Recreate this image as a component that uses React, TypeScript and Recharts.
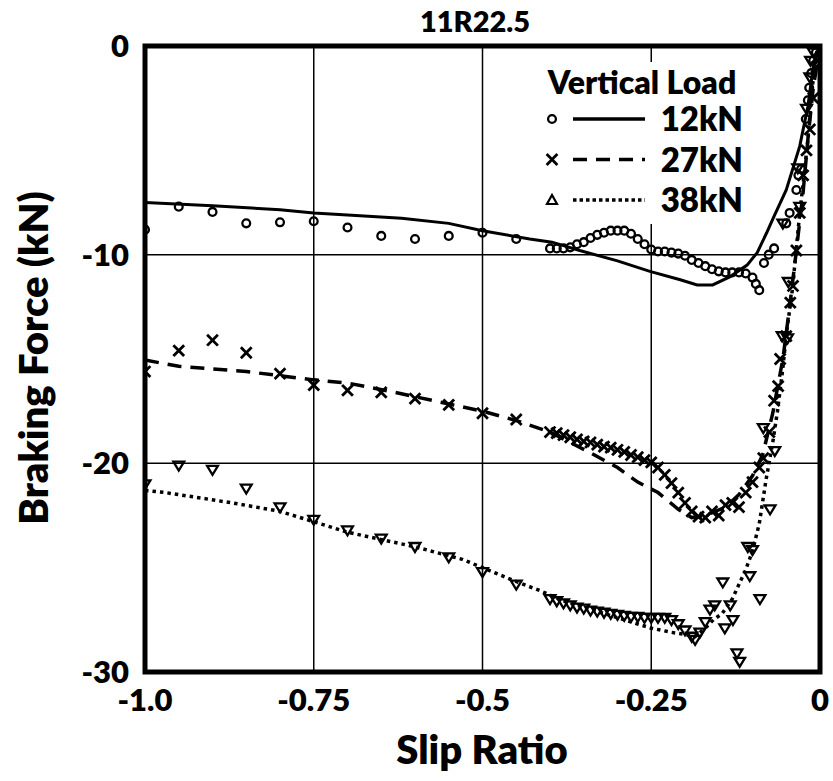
import React from 'react';
import { ComposedChart, Line, Scatter, XAxis, YAxis, CartesianGrid, ReferenceArea } from 'recharts';

// measured points [slip ratio, braking force kN]
const meas12: [number, number][] = [
  [-1, -8.8], [-0.95, -7.7], [-0.9, -7.95], [-0.85, -8.5], [-0.8, -8.45], [-0.75, -8.4], [-0.7, -8.7],
  [-0.65, -9.1], [-0.6, -9.25], [-0.55, -9.1], [-0.5, -8.95], [-0.45, -9.25], [-0.4, -9.7], [-0.39, -9.7],
  [-0.38, -9.7], [-0.37, -9.65], [-0.36, -9.5], [-0.35, -9.4], [-0.34, -9.2], [-0.33, -9.05], [-0.32, -8.95],
  [-0.31, -8.85], [-0.3, -8.85], [-0.29, -8.85], [-0.28, -9.0], [-0.27, -9.25], [-0.26, -9.5], [-0.25, -9.75],
  [-0.24, -9.85], [-0.23, -9.85], [-0.22, -9.9], [-0.21, -9.95], [-0.2, -10.05], [-0.19, -10.25], [-0.18, -10.4],
  [-0.17, -10.55], [-0.16, -10.7], [-0.15, -10.8], [-0.14, -10.85], [-0.13, -10.85], [-0.12, -10.85],
  [-0.11, -10.9], [-0.1, -11.1], [-0.095, -11.4], [-0.09, -11.7], [-0.083, -10.4], [-0.076, -10.0],
  [-0.068, -9.7], [-0.05, -8.5], [-0.045, -8.0], [-0.035, -6.9], [-0.032, -6.2], [-0.028, -5.9],
  [-0.021, -3.5], [-0.018, -2.6], [-0.016, -2.0], [-0.013, -1.3], [-0.01, -0.7], [-0.006, -0.3],
];
const meas27: [number, number][] = [
  [-1, -15.6], [-0.95, -14.6], [-0.9, -14.1], [-0.85, -14.7], [-0.8, -15.7], [-0.75, -16.25], [-0.7, -16.5],
  [-0.65, -16.6], [-0.6, -16.9], [-0.55, -17.2], [-0.5, -17.6], [-0.45, -17.9], [-0.4, -18.5], [-0.39, -18.55],
  [-0.38, -18.65], [-0.37, -18.75], [-0.36, -18.85], [-0.35, -18.95], [-0.34, -19.0], [-0.33, -19.1],
  [-0.32, -19.2], [-0.31, -19.25], [-0.3, -19.35], [-0.29, -19.45], [-0.28, -19.6], [-0.27, -19.7],
  [-0.26, -19.85], [-0.25, -19.95], [-0.24, -20.2], [-0.23, -20.55], [-0.22, -20.95], [-0.21, -21.4],
  [-0.2, -21.9], [-0.19, -22.3], [-0.18, -22.55], [-0.17, -22.6], [-0.16, -22.3], [-0.15, -22.5],
  [-0.14, -22.0], [-0.13, -21.9], [-0.12, -22.1], [-0.11, -21.4], [-0.1, -20.9], [-0.09, -20.2],
  [-0.084, -19.75], [-0.075, -18.5], [-0.068, -17.0], [-0.062, -16.3], [-0.059, -15.0], [-0.05, -13.9],
  [-0.044, -12.3], [-0.04, -11.5], [-0.035, -9.8], [-0.03, -8.0], [-0.025, -6.2], [-0.02, -5.0],
  [-0.015, -4.0], [-0.01, -2.5], [-0.005, -1.0],
];
const meas38: [number, number][] = [
  [-1, -21.0], [-0.95, -20.1], [-0.9, -20.3], [-0.85, -21.2], [-0.8, -22.1], [-0.75, -22.7], [-0.7, -23.2],
  [-0.65, -23.6], [-0.6, -24.0], [-0.55, -24.5], [-0.5, -25.2], [-0.45, -25.8], [-0.4, -26.5], [-0.39, -26.6],
  [-0.38, -26.7], [-0.37, -26.8], [-0.36, -26.9], [-0.35, -26.95], [-0.34, -27.05], [-0.33, -27.1],
  [-0.32, -27.15], [-0.31, -27.2], [-0.3, -27.25], [-0.29, -27.3], [-0.28, -27.35], [-0.27, -27.35],
  [-0.26, -27.4], [-0.25, -27.4], [-0.24, -27.4], [-0.23, -27.4], [-0.22, -27.5], [-0.21, -27.7],
  [-0.2, -28.0], [-0.19, -28.3], [-0.185, -28.45], [-0.178, -28.1], [-0.17, -27.6], [-0.163, -27.0],
  [-0.156, -26.8], [-0.144, -25.7], [-0.141, -27.9], [-0.133, -26.8], [-0.129, -27.5], [-0.123, -29.1],
  [-0.119, -29.5], [-0.107, -24.0], [-0.104, -25.4], [-0.1, -24.15], [-0.089, -26.5], [-0.084, -18.3],
  [-0.074, -22.2], [-0.067, -19.4], [-0.056, -13.9], [-0.048, -14.0], [-0.047, -11.3], [-0.055, -8.5],
  [-0.03, -7.7], [-0.033, -5.85], [-0.02, -3.0], [-0.015, -1.5], [-0.014, -0.7], [-0.01, -0.3],
];

// simulated curves
const sim12: [number, number][] = [
  [-1, -7.5], [-0.9, -7.65], [-0.8, -7.85], [-0.75, -8.0], [-0.7, -8.1], [-0.62, -8.25], [-0.55, -8.5],
  [-0.5, -8.85], [-0.43, -9.25], [-0.397, -9.4], [-0.356, -9.8], [-0.3, -10.3], [-0.252, -10.8],
  [-0.207, -11.2], [-0.182, -11.45], [-0.159, -11.45], [-0.133, -11.05], [-0.108, -10.5], [-0.093, -9.9],
  [-0.079, -8.95], [-0.07, -8.3], [-0.05, -6.9], [-0.03, -4.8], [-0.018, -2.9], [-0.01, -1.0], [0, 0],
];
const sim27: [number, number][] = [
  [-1, -15.05], [-0.95, -15.35], [-0.85, -15.6], [-0.75, -16.0], [-0.7, -16.15], [-0.63, -16.6],
  [-0.5, -17.5], [-0.45, -17.95], [-0.4, -18.5], [-0.34, -19.5], [-0.3, -20.2], [-0.27, -20.9],
  [-0.24, -21.4], [-0.21, -22.2], [-0.19, -22.6], [-0.17, -22.5], [-0.14, -22.1], [-0.12, -21.5],
  [-0.1, -20.6], [-0.085, -19.6], [-0.07, -17.6], [-0.055, -15.0], [-0.045, -12.5], [-0.035, -9.8],
  [-0.025, -7.0], [-0.018, -4.5], [-0.01, -2.0], [0, 0],
];
const sim38: [number, number][] = [
  [-1, -21.3], [-0.97, -21.4], [-0.87, -21.9], [-0.8, -22.3], [-0.75, -22.8], [-0.7, -23.3], [-0.6, -24.0],
  [-0.53, -24.6], [-0.5, -25.0], [-0.455, -25.6], [-0.415, -26.1], [-0.38, -26.6], [-0.34, -27.0],
  [-0.3, -27.4], [-0.27, -27.7], [-0.25, -27.9], [-0.22, -28.1], [-0.2, -28.2], [-0.185, -28.3],
  [-0.17, -27.9], [-0.158, -27.5], [-0.145, -27.2], [-0.13, -26.5], [-0.11, -25.1], [-0.1, -24.2],
  [-0.09, -22.9], [-0.08, -20.8], [-0.07, -19.0], [-0.063, -17.5], [-0.056, -15.7], [-0.049, -13.6],
  [-0.041, -11.7], [-0.03, -8.0], [-0.025, -6.6], [-0.018, -4.5], [-0.012, -2.1], [-0.005, -0.3], [0, 0],
];

const xTicks = [-1, -0.75, -0.5, -0.25, 0];
const yTicks = [-30, -20, -10, 0];
const loads = ['12kN', '27kN', '38kN'];

const toRows = (a: [number, number][]) => a.map(([x, y]) => ({ x, y }));

const FONT = 'Lato, "DejaVu Sans", sans-serif';
const W = 800;

const CircleMark = (p: any) => (
  <circle cx={p.cx} cy={p.cy} r={3.9} fill="none" stroke="#000" strokeWidth={2.3} />
);
const CrossMark = (p: any) => {
  const s = 5.4;
  return (
    <g stroke="#000" strokeWidth={2.8}>
      <line x1={p.cx - s} y1={p.cy - s} x2={p.cx + s} y2={p.cy + s} />
      <line x1={p.cx - s} y1={p.cy + s} x2={p.cx + s} y2={p.cy - s} />
    </g>
  );
};
const TriMark = (p: any) => {
  const s = 5.4;
  return (
    <path
      d={`M${p.cx - s},${p.cy - s * 0.7} L${p.cx + s},${p.cy - s * 0.7} L${p.cx},${p.cy + s * 0.95} Z`}
      fill="none"
      stroke="#000"
      strokeWidth={2.3}
    />
  );
};

const fmtX = (v: number) => (v === -1 ? '-1.0' : v === 0 ? '0' : String(v));

const XTick = (p: any) => (
  <text x={p.x} y={p.y + 33} textAnchor="middle" fontSize={31} fontWeight={W} fontFamily={FONT} fill="#000">
    {fmtX(p.payload.value)}
  </text>
);
const YTick = (p: any) => (
  <text x={p.x} y={p.y + 11} textAnchor="end" fontSize={31} fontWeight={W} fontFamily={FONT} fill="#000">
    {p.payload.value}
  </text>
);

export default function App() {
  return (
    <div style={{ position: 'absolute', left: 0, top: 0, width: 833, height: 781, background: '#fff' }}>
      <ComposedChart width={833} height={781} margin={{ top: 46, right: 13, left: 0, bottom: 0 }}>
        <CartesianGrid stroke="#000" strokeWidth={1.5} />
        <XAxis
          dataKey="x"
          type="number"
          domain={[-1, 0]}
          ticks={xTicks}
          allowDataOverflow
          height={109}
          axisLine={false}
          tickLine={false}
          tickSize={0}
          tickMargin={6}
          tick={XTick}
          label={() => (
            <text x={482} y={764} textAnchor="middle" fontSize={40} fontWeight={W} fontFamily={FONT} fill="#000">
              Slip Ratio
            </text>
          )}
        />
        <YAxis
          type="number"
          domain={[-30, 0]}
          ticks={yTicks}
          allowDataOverflow
          width={145}
          axisLine={false}
          tickLine={false}
          tickSize={0}
          tickMargin={16}
          tick={YTick}
          label={() => (
            <text
              x={48}
              y={358}
              transform="rotate(-90 48 358)"
              textAnchor="middle"
              fontSize={40}
              fontWeight={W}
              fontFamily={FONT}
              fill="#000"
            >
              Braking Force (kN)
            </text>
          )}
        />
        <Line data={toRows(sim12)} dataKey="y" type="linear" dot={false} stroke="#000" strokeWidth={3} isAnimationActive={false} />
        <Line data={toRows(sim27)} dataKey="y" type="linear" dot={false} stroke="#000" strokeWidth={3.5} strokeDasharray="14 9" isAnimationActive={false} />
        <Line data={toRows(sim38)} dataKey="y" type="linear" dot={false} stroke="#000" strokeWidth={3.5} strokeDasharray="3.5 4" isAnimationActive={false} />
        <Scatter data={toRows(meas12)} dataKey="y" shape={CircleMark} isAnimationActive={false} />
        <Scatter data={toRows(meas27)} dataKey="y" shape={CrossMark} isAnimationActive={false} />
        <Scatter data={toRows(meas38)} dataKey="y" shape={TriMark} isAnimationActive={false} />
        <ReferenceArea x1={-1} x2={0} y1={-30} y2={0} fill="none" fillOpacity={0} stroke="#000" strokeWidth={5} ifOverflow="visible" />
      </ComposedChart>

      <svg width={833} height={44} style={{ position: 'absolute', left: 0, top: 0 }}>
        <text x={475} y={32} textAnchor="middle" fontSize={29} fontWeight={W} fontFamily={FONT} fill="#000">
          11R22.5
        </text>
      </svg>

      <svg
        width={222}
        height={162}
        style={{ position: 'absolute', left: 530, top: 62, background: '#fff' }}
      >
        <text x={112} y={32} textAnchor="middle" fontSize={32} fontWeight={W} fontFamily={FONT} fill="#000">
          Vertical Load
        </text>
        {loads.map((l, i) => {
          const cy = 57 + i * 40.5;
          return (
            <g key={l}>
              {i === 0 && <CircleMark cx={22} cy={cy} />}
              {i === 1 && <CrossMark cx={22} cy={cy} />}
              {i === 2 && (
                <path d={`M17,${cy + 4} L27,${cy + 4} L22,${cy - 5} Z`} fill="none" stroke="#000" strokeWidth={2.2} />
              )}
              <line
                x1={43}
                x2={115}
                y1={cy}
                y2={cy}
                stroke="#000"
                strokeWidth={3.5}
                strokeDasharray={i === 0 ? undefined : i === 1 ? '14 9' : '3.5 3'}
              />
              <text x={213} y={cy + 12} textAnchor="end" fontSize={33} fontWeight={W} fontFamily={FONT} fill="#000">
                {l}
              </text>
            </g>
          );
        })}
      </svg>
    </div>
  );
}
